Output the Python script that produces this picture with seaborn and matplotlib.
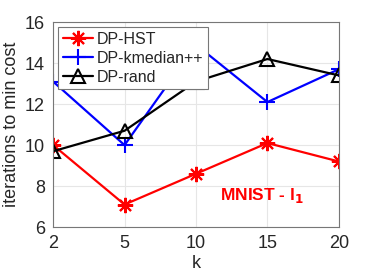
import pandas as pd
import seaborn as sns
import matplotlib.pyplot as plt

# values
k_values = ['2', '5', '10', '15', '20']
dp_hst = [10.0, 7.1, 8.6, 10.1, 9.2]
dp_kmedian = [13.1, 10.0, 14.9, 12.1, 13.7]
dp_rand = [9.7, 10.7, 13.1, 14.2, 13.4]

series_names = ['DP-HST', 'DP-kmedian++', 'DP-rand']
series_values = [dp_hst, dp_kmedian, dp_rand]
colors = ['red', 'blue', 'black']
markers = [(8, 2, 0), '+', '^']

sns.set_style('whitegrid')
plt.rcParams['font.family'] = ['Liberation Sans', 'DejaVu Sans']

fig = plt.figure(figsize=(3.74, 2.8), dpi=100)
ax = fig.add_axes([0.142, 0.189, 0.764, 0.732])

for name, vals, c, m in zip(series_names, series_values, colors, markers):
    df = pd.DataFrame({'k': k_values, 'value': vals})
    sns.lineplot(data=df, x='k', y='value', sort=False, ax=ax, color=c, lw=1.6,
                 marker=m, markersize=11 if m != '^' else 10, mew=1.5,
                 mfc='none' if m == '^' else c, mec=c, label=name)

ax.set_ylim(6, 16)
ax.set_yticks([6, 8, 10, 12, 14, 16])
ax.set_xlim(0, 4)
ax.set_xlabel('k', fontsize=13, labelpad=2)
ax.set_ylabel('iterations to min cost', fontsize=13, labelpad=3)
ax.tick_params(labelsize=13, direction='in', length=3, pad=6)
ax.grid(True, color='#e6e6e6', lw=0.8)
for s in ax.spines.values():
    s.set_color('#777777')
    s.set_linewidth(0.8)

ax.text(2.93, 7.55, r'MNIST - l$_{\mathbf{1}}$', color='red', fontsize=12.5,
        fontweight='bold', ha='center', va='center')

leg = ax.legend(loc='upper left', fontsize=11.5, frameon=True, fancybox=False,
                borderaxespad=0.3, handlelength=1.9, labelspacing=0.25,
                borderpad=0.3, handletextpad=0.25, framealpha=1)
leg.get_frame().set_edgecolor('#777777')
leg.get_frame().set_linewidth(0.8)
leg.set_zorder(10)

fig.savefig('out.png', dpi=100)
